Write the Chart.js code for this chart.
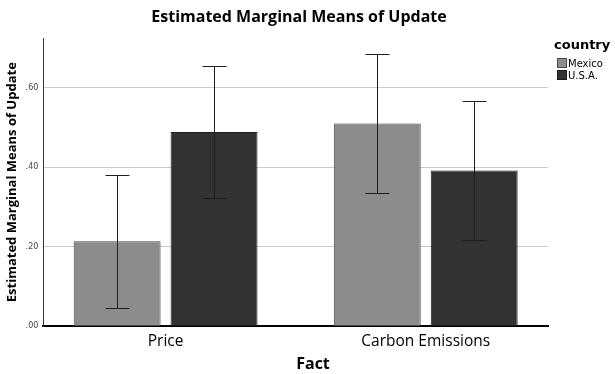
<!DOCTYPE html>
<html>
<head>
<meta charset="utf-8">
<script src="https://cdn.jsdelivr.net/npm/chart.js@4.4.0/dist/chart.umd.min.js"></script>
<style>
  html, body { margin: 0; padding: 0; background: #fff; }
  #wrap { width: 615px; height: 374px; }
</style>
</head>
<body>
<div id="wrap"><canvas id="c" width="615" height="374"></canvas></div>
<script>
// Estimated marginal means of "Update" by fact shown and country, with 95% CI
const categories = ['Price', 'Carbon Emissions'];
const seriesNames = ['Mexico', 'U.S.A.'];
const mexicoMeans = [0.214, 0.510];
const usaMeans = [0.489, 0.392];
const mexicoLower = [0.047, 0.336];
const mexicoUpper = [0.381, 0.684];
const usaLower = [0.322, 0.218];
const usaUpper = [0.655, 0.566];
const yTickValues = [0, 0.2, 0.4, 0.6];
const yTickLabels = ['.00', '.20', '.40', '.60'];

const fillColors = ['#8c8c8c', '#323232'];
const edgeColors = ['#4a4a4a', '#1c1c1c'];

// category index -> bar value points on a numeric x axis
const toPoints = vals => vals.map((v, i) => ({ x: i, y: v }));

// Draws the confidence-interval whiskers on top of each bar
const errorBars = {
  id: 'errorBars',
  afterDatasetsDraw(chart) {
    const ctx = chart.ctx;
    const y = chart.scales.y;
    ctx.save();
    ctx.strokeStyle = '#1e1e1e';
    ctx.lineWidth = 1;
    chart.data.datasets.forEach((ds, i) => {
      const meta = chart.getDatasetMeta(i);
      meta.data.forEach((bar, j) => {
        const x = Math.round(bar.x) + 0.5;
        const top = Math.round(y.getPixelForValue(ds.upper[j])) + 0.5;
        const bot = Math.round(y.getPixelForValue(ds.lower[j])) + 0.5;
        const cap = 12;
        ctx.beginPath();
        ctx.moveTo(x, top); ctx.lineTo(x, bot);
        ctx.moveTo(x - cap, top); ctx.lineTo(x + cap, top);
        ctx.moveTo(x - cap, bot); ctx.lineTo(x + cap, bot);
        ctx.stroke();
      });
    });
    ctx.restore();
  }
};

// Chart title, x-axis title and the legend block in the upper-right corner
const headings = {
  id: 'headings',
  afterDraw(chart) {
    const ctx = chart.ctx;
    ctx.save();
    ctx.fillStyle = '#000';
    ctx.textAlign = 'center';
    ctx.textBaseline = 'middle';
    ctx.font = 'bold 16px "Open Sans"';
    ctx.fillText('Estimated Marginal Means of Update', 299, 17);
    ctx.font = 'bold 16px "Open Sans"';
    ctx.fillText('Fact', 313, 364);

    ctx.textAlign = 'left';
    ctx.textBaseline = 'alphabetic';
    ctx.font = 'bold 13px "DejaVu Sans"';
    ctx.fillText('country', 554, 49);
    ctx.font = '10px "DejaVu Sans"';
    chart.data.datasets.forEach((ds, i) => {
      const yy = 58 + i * 12;
      ctx.fillStyle = ds.backgroundColor;
      ctx.strokeStyle = ds.borderColor;
      ctx.lineWidth = 1;
      ctx.fillRect(557.5, yy + 0.5, 9, 9);
      ctx.strokeRect(557.5, yy + 0.5, 9, 9);
      ctx.fillStyle = '#000';
      ctx.fillText(ds.label, 568, yy + 9);
    });
    ctx.restore();
  }
};

new Chart(document.getElementById('c'), {
  type: 'bar',
  data: {
    datasets: [
      { label: seriesNames[0], data: toPoints(mexicoMeans), lower: mexicoLower, upper: mexicoUpper,
        backgroundColor: fillColors[0], borderColor: edgeColors[0], borderWidth: 1, borderSkipped: false },
      { label: seriesNames[1], data: toPoints(usaMeans), lower: usaLower, upper: usaUpper,
        backgroundColor: fillColors[1], borderColor: edgeColors[1], borderWidth: 1, borderSkipped: false }
    ]
  },
  options: {
    responsive: false,
    animation: false,
    devicePixelRatio: 1,
    categoryPercentage: 0.745,
    barPercentage: 0.897,
    layout: { padding: { left: 4, right: 67, top: 38, bottom: 17 } },
    plugins: {
      legend: { display: false },
      tooltip: { enabled: false },
      title: { display: false }
    },
    scales: {
      x: {
        type: 'linear',
        offset: false,
        min: -0.47,
        max: 1.47,
        afterBuildTicks(scale) { scale.ticks = categories.map((c, i) => ({ value: i })); },
        grid: { display: false, drawTicks: false, offset: false },
        border: { display: true, color: '#000', width: 2 },
        ticks: { color: '#000', font: { family: 'Open Sans', size: 15.5 }, padding: 6,
                 autoSkip: false, maxRotation: 0,
                 callback: v => categories[v] }
      },
      y: {
        min: 0,
        max: 0.725,
        afterBuildTicks(scale) { scale.ticks = yTickValues.map(v => ({ value: v })); },
        grid: {
          drawTicks: false,
          color: ctx => ctx.tick && ctx.tick.value === 0 ? 'rgba(0,0,0,0)' : '#c8c8c8',
          lineWidth: 1
        },
        border: { display: true, color: '#333', width: 1 },
        ticks: {
          color: '#444',
          font: { family: 'DejaVu Sans', size: 8 },
          padding: 5,
          callback: (v) => yTickLabels[yTickValues.indexOf(v)]
        },
        title: { display: true, text: 'Estimated Marginal Means of Update', color: '#000',
                 font: { family: 'Open Sans', weight: 'bold', size: 13 }, padding: { top: 0, bottom: 1 } }
      }
    }
  },
  plugins: [errorBars, headings]
});
</script>
</body>
</html>
